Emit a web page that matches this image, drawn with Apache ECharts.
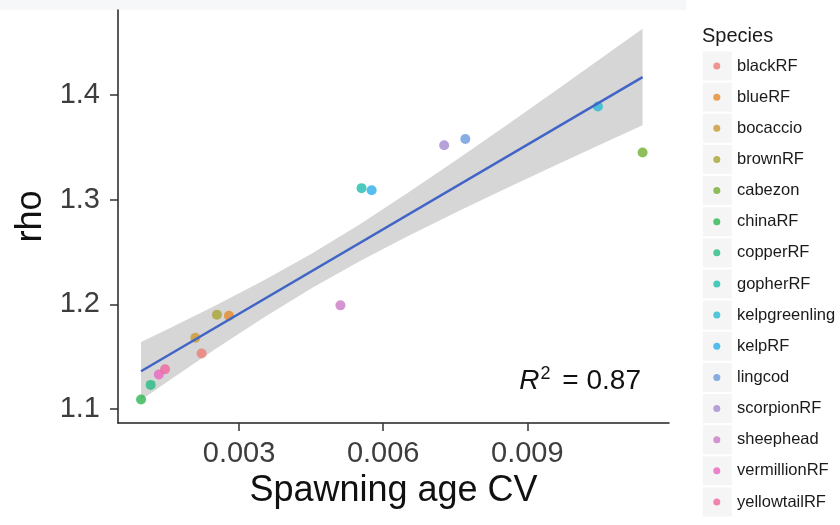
<!DOCTYPE html>
<html><head><meta charset="utf-8">
<script src="https://cdn.jsdelivr.net/npm/echarts@6/dist/echarts.min.js"></script>
<style>html,body{margin:0;padding:0;background:#fff}#c{width:840px;height:525px}</style>
</head><body><div id="c"></div>
<script>
const species = ['blackRF','blueRF','bocaccio','brownRF','cabezon','chinaRF','copperRF','gopherRF','kelpgreenling','kelpRF','lingcod','scorpionRF','sheephead','vermillionRF','yellowtailRF'];
const spawningCV = [0.00222,0.00279,0.00209,0.00254,0.01140,0.00096,0.00116,0.00555,0.01047,0.00576,0.00771,0.00727,0.00511,0.00133,0.00146];
const rho = [1.153,1.189,1.168,1.190,1.345,1.109,1.123,1.311,1.389,1.309,1.358,1.352,1.199,1.133,1.138];
const speciesColors = ['#EE7C74','#E38A2C','#C99A32','#A8A432','#73AF33','#2DB64F','#26BC84','#20BDAE','#27BAD3','#2AAEE8','#6A97DD','#A889CF','#C97AC4','#E767BE','#F0669E'];
const fitX = [0.00096, 0.01140];
const fitY = [1.136, 1.417];
const bandX = [0.00096,0.0015,0.0025,0.0035,0.0045,0.0055,0.0065,0.0075,0.0085,0.0095,0.0105,0.0114];
const bandLower = [1.1086,1.1258,1.1570,1.1870,1.2151,1.2409,1.2648,1.2874,1.3094,1.3309,1.3522,1.3712];
const bandUpper = [1.1640,1.1760,1.1986,1.2224,1.2481,1.2761,1.3060,1.3372,1.3690,1.4013,1.4338,1.4632];
const xTicks = [0.003,0.006,0.009];
const xTickLabels = ['0.003','0.006','0.009'];
const yTicks = [1.1,1.2,1.3,1.4];
const yTickLabels = ['1.1','1.2','1.3','1.4'];
const r2Value = '0.87';

function labelFor(ticks, labels){
  return function(v){
    let best=0, d=Infinity;
    ticks.forEach((t,i)=>{const dd=Math.abs(t-v); if(dd<d){d=dd;best=i;}});
    return labels[best];
  };
}
const FONT = 'Liberation Sans, Arial, sans-serif';
const chart = echarts.init(document.getElementById('c'), null, {renderer:'canvas'});

const series = [];
series.push({
  type:'custom', silent:true, z:1, name:'band',
  data:[[bandX[0], bandLower[0]]],
  encode:{x:0,y:1},
  renderItem:function(params, api){
    if(params.dataIndex!==0) return;
    const pts=[];
    for(let i=0;i<bandX.length;i++) pts.push(api.coord([bandX[i], bandUpper[i]]));
    for(let i=bandX.length-1;i>=0;i--) pts.push(api.coord([bandX[i], bandLower[i]]));
    return {type:'polygon', shape:{points:pts, smooth:0}, style:{fill:'#D6D6D6'}};
  }
});
species.forEach((s,i)=>{
  series.push({
    type:'scatter', name:s, z:2, symbol:'circle', symbolSize:10,
    itemStyle:{color:speciesColors[i]},
    emphasis:{disabled:true},
    data:[[spawningCV[i], rho[i]]]
  });
});
series.push({
  type:'line', name:'fit', z:3, showSymbol:false, silent:true,
  lineStyle:{color:'#4165C6', width:2.5},
  data: fitX.map((x,i)=>[x, fitY[i]])
});

chart.setOption({
  animation:false,
  backgroundColor:'#ffffff',
  grid:{left:118, right:171, top:10, bottom:102, containLabel:false},
  xAxis:{
    type:'value', min:0.00048, max:0.01195,
    name:'Spawning age CV', nameLocation:'middle', nameGap:48,
    nameTextStyle:{fontFamily:FONT, fontSize:36, color:'#111'},
    axisLine:{show:true, lineStyle:{color:'#222', width:1.5}},
    axisTick:{show:true, length:8, inside:false, customValues:xTicks, lineStyle:{color:'#333', width:1.5}},
    axisLabel:{show:true, customValues:xTicks, margin:16, fontFamily:FONT, fontSize:29, color:'#3d3d3d', formatter:labelFor(xTicks,xTickLabels)},
    splitLine:{show:false}
  },
  yAxis:{
    type:'value', min:1.0866, max:1.4812,
    name:'rho', nameLocation:'middle', nameGap:69, nameRotate:90,
    nameTextStyle:{fontFamily:FONT, fontSize:36, color:'#111'},
    axisLine:{show:true, lineStyle:{color:'#222', width:1.5}},
    axisTick:{show:true, length:8, inside:false, customValues:yTicks, lineStyle:{color:'#333', width:1.5}},
    axisLabel:{show:true, customValues:yTicks, margin:18, fontFamily:FONT, fontSize:29, color:'#3d3d3d', formatter:labelFor(yTicks,yTickLabels)},
    splitLine:{show:false}
  },
  legend:[
    {
      data:species, orient:'vertical', left:702.8, top:51.5, itemGap:2.14, padding:0, height:480,
      icon:'rect', itemWidth:29, itemHeight:29, selectedMode:false, z:1,
      itemStyle:{color:'#F2F2F2', borderWidth:0},
      textStyle:{fontFamily:FONT, fontSize:16.5, lineHeight:29, color:'rgba(0,0,0,0)'}
    },
    {
      data:species, orient:'vertical', left:713.3, top:51.5, itemGap:2.14, padding:0, height:480,
      icon:'circle', itemWidth:7, itemHeight:7, selectedMode:false, z:2,
      textStyle:{fontFamily:FONT, fontSize:16.5, lineHeight:29, color:'#1a1a1a', padding:[0,0,0,11.7]}
    }
  ],
  graphic:[
    {type:'rect', silent:true, z:-1, shape:{x:0,y:0,width:686,height:10}, style:{fill:'#F6F7F9'}},
    {type:'text', silent:true, x:702, y:36, style:{text:'Species', font:'20px '+FONT, fill:'#1a1a1a', verticalAlign:'middle', align:'left'}},
    {type:'text', silent:true, x:641, y:381, style:{
      text:'{i|R}{s|2}{n| = '+r2Value+'}', align:'right', verticalAlign:'middle',
      rich:{
        i:{fontFamily:FONT, fontSize:28, fontStyle:'italic', fill:'#111', lineHeight:32},
        s:{fontFamily:FONT, fontSize:18, fill:'#111', lineHeight:32, padding:[0,4,14,1]},
        n:{fontFamily:FONT, fontSize:28, fill:'#111', lineHeight:32}
      }
    }}
  ],
  series:series
});
</script></body></html>
